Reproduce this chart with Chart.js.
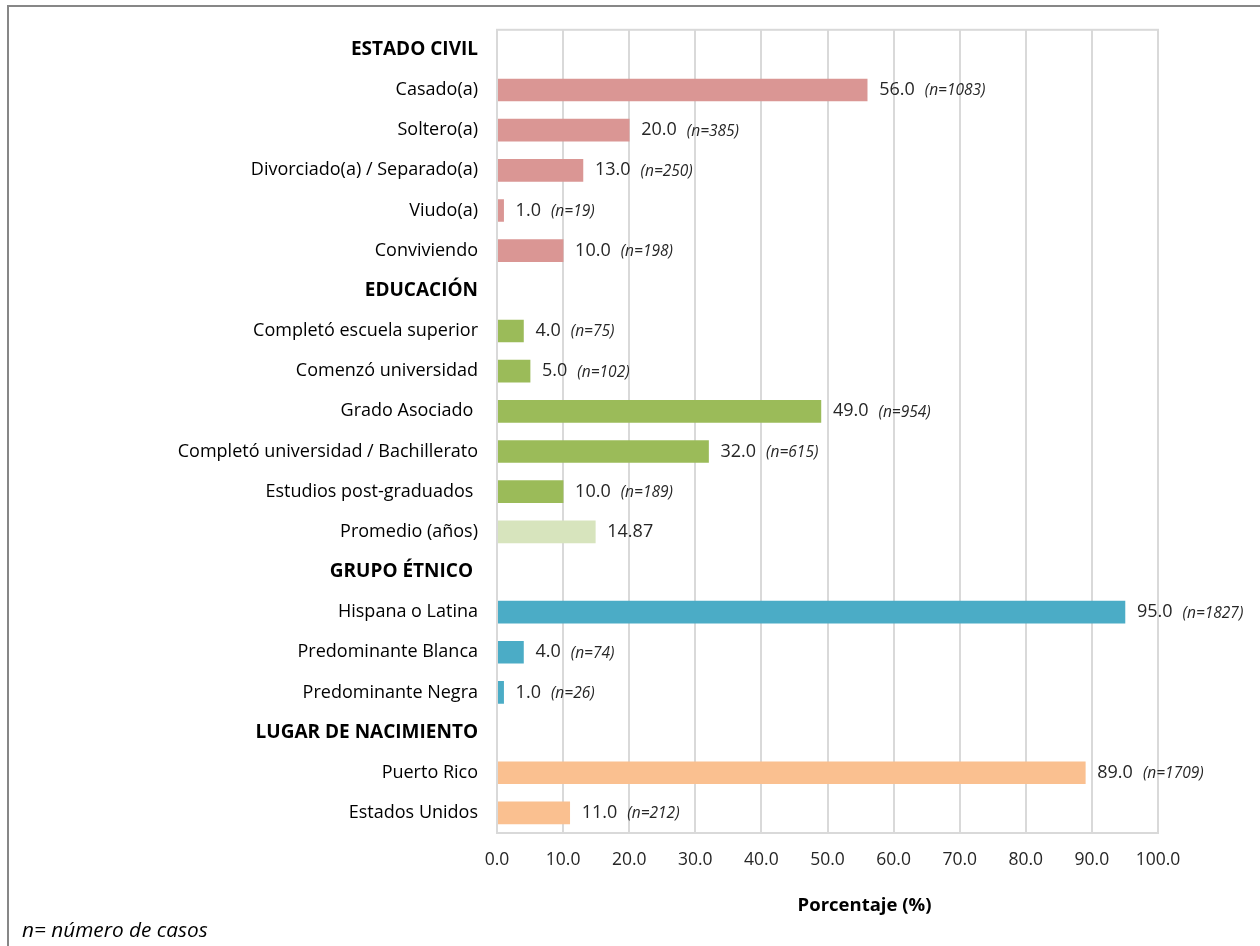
<!DOCTYPE html>
<html>
<head>
<meta charset="utf-8">
<script src="https://cdn.jsdelivr.net/npm/chart.js@4"></script>
<style>
html, body { margin: 0; padding: 0; background: #fff; }
</style>
</head>
<body>
<canvas id="myChart" width="1260" height="946"></canvas>
<script>
const categorias = [
    'ESTADO CIVIL', 'Casado(a)', 'Soltero(a)', 'Divorciado(a) / Separado(a)', 'Viudo(a)', 'Conviviendo',
    'EDUCACIÓN', 'Completó escuela superior', 'Comenzó universidad', 'Grado Asociado ',
    'Completó universidad / Bachillerato', 'Estudios post-graduados ', 'Promedio (años)',
    'GRUPO ÉTNICO ', 'Hispana o Latina', 'Predominante Blanca', 'Predominante Negra',
    'LUGAR DE NACIMIENTO', 'Puerto Rico', 'Estados Unidos'
];
const encabezados = ['ESTADO CIVIL', 'EDUCACIÓN', 'GRUPO ÉTNICO ', 'LUGAR DE NACIMIENTO'];
const porcentajes = [
    null, 56.0, 20.0, 13.0, 1.0, 10.0,
    null, 4.0, 5.0, 49.0, 32.0, 10.0, 14.87,
    null, 95.0, 4.0, 1.0,
    null, 89.0, 11.0
];
const casos = [
    null, 1083, 385, 250, 19, 198,
    null, 75, 102, 954, 615, 189, null,
    null, 1827, 74, 26,
    null, 1709, 212
];
const coloresBarra = [
    null, '#da9694', '#da9694', '#da9694', '#da9694', '#da9694',
    null, '#9bbb59', '#9bbb59', '#9bbb59', '#9bbb59', '#9bbb59', '#d7e4bd',
    null, '#4bacc6', '#4bacc6', '#4bacc6',
    null, '#fac090', '#fac090'
];
const ticksEje = ['0.0', '10.0', '20.0', '30.0', '40.0', '50.0', '60.0', '70.0', '80.0', '90.0', '100.0'];

const fuente = "'Open Sans', 'DejaVu Sans', sans-serif";
const ctx = document.getElementById('myChart');

const extras = {
    id: 'extras',
    beforeDraw(chart) {
        const c = chart.ctx;
        c.save();
        c.fillStyle = '#fff';
        c.fillRect(0, 0, chart.width, chart.height);
        // marco exterior
        c.strokeStyle = '#878787';
        c.lineWidth = 2;
        c.beginPath();
        c.moveTo(8, chart.height);
        c.lineTo(8, 6);
        c.lineTo(chart.width, 6);
        c.stroke();
        c.restore();
    },
    afterDraw(chart) {
        const c = chart.ctx;
        const area = chart.chartArea;
        c.save();
        c.strokeStyle = '#d9d9d9';
        c.lineWidth = 2;
        c.strokeRect(area.left, area.top, area.right - area.left, area.bottom - area.top);

        // etiquetas de datos
        const meta = chart.getDatasetMeta(0);
        c.textBaseline = 'middle';
        c.fillStyle = '#262626';
        meta.data.forEach((bar, i) => {
            const v = porcentajes[i];
            if (v === null) return;
            const texto = casos[i] === null ? v.toFixed(2) : v.toFixed(1);
            let x = bar.x + 12;
            c.font = '18px ' + fuente;
            c.textAlign = 'left';
            c.fillText(texto, x, bar.y);
            if (casos[i] !== null) {
                x += c.measureText(texto).width + 10;
                c.font = 'italic 15.5px ' + fuente;
                c.fillText('(n=' + casos[i] + ')', x, bar.y + 1);
            }
        });

        // título del eje
        c.font = 'bold 18.5px ' + fuente;
        c.textAlign = 'center';
        c.fillStyle = '#000';
        c.fillText('Porcentaje (%)', (area.left + area.right) / 2 + 37, 906);

        // nota
        c.font = 'italic 20.8px ' + fuente;
        c.textAlign = 'left';
        c.fillText('n= número de casos', 22, 931);
        c.restore();
    }
};

new Chart(ctx, {
    type: 'bar',
    data: {
        labels: categorias,
        datasets: [{
            data: porcentajes,
            backgroundColor: coloresBarra,
            borderWidth: 0,
            barThickness: 22
        }]
    },
    options: {
        indexAxis: 'y',
        responsive: false,
        animation: false,
        devicePixelRatio: 1,
        layout: {
            padding: { top: 25, right: 102, bottom: 0, left: 0 }
        },
        scales: {
            x: {
                min: 0,
                max: 100,
                ticks: {
                    stepSize: 10,
                    padding: 17,
                    color: '#262626',
                    font: { family: fuente, size: 17.5 },
                    callback: (value, index) => ticksEje[index]
                },
                grid: {
                    color: '#d9d9d9',
                    lineWidth: 2,
                    drawTicks: false
                },
                border: { display: false },
                afterFit: scale => { scale.height = 113; }
            },
            y: {
                ticks: {
                    padding: 19,
                    color: '#000',
                    autoSkip: false,
                    font: (c) => {
                        const esTitulo = encabezados.includes(categorias[c.index]);
                        return {
                            family: fuente,
                            size: esTitulo ? 19 : 18,
                            weight: esTitulo ? 'bold' : 'normal'
                        };
                    }
                },
                grid: { display: false, drawTicks: false },
                border: { display: false },
                afterFit: scale => { scale.width = 497; }
            }
        },
        plugins: {
            legend: { display: false },
            tooltip: { enabled: false }
        }
    },
    plugins: [extras]
});
</script>
</body>
</html>
